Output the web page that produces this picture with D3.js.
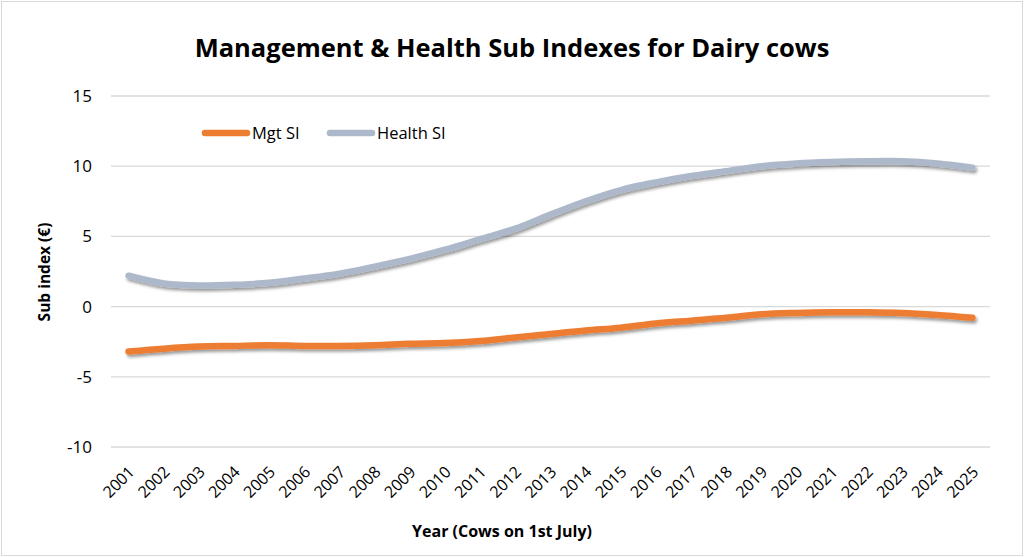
<!DOCTYPE html>
<html>
<head>
<meta charset="utf-8">
<script src="https://cdnjs.cloudflare.com/ajax/libs/d3/7.8.5/d3.min.js"></script>
<style>
  body { margin: 0; background: #fff; }
  text { font-family: "Open Sans", "Noto Sans", sans-serif; fill: #000; }
</style>
</head>
<body>
<svg id="chart" width="1024" height="557"></svg>
<script>

var years = ["2001","2002","2003","2004","2005","2006","2007","2008","2009","2010","2011","2012","2013",
             "2014","2015","2016","2017","2018","2019","2020","2021","2022","2023","2024","2025"];
var mgt_si = [-3.2,-3.0,-2.85,-2.8,-2.75,-2.8,-2.8,-2.75,-2.65,-2.6,-2.45,-2.2,-1.95,
              -1.7,-1.5,-1.2,-1.0,-0.8,-0.55,-0.45,-0.4,-0.4,-0.45,-0.6,-0.8];
var health_si = [2.2,1.65,1.5,1.55,1.7,2.0,2.35,2.85,3.4,4.05,4.8,5.55,6.55,
                 7.5,8.3,8.85,9.3,9.65,10.0,10.2,10.3,10.35,10.35,10.2,9.9];
var y_ticks = [-10,-5,0,5,10,15];

var series = [
  { name: "Mgt SI", values: mgt_si, color: "#ED7D31" },
  { name: "Health SI", values: health_si, color: "#ADB9CA" }
];

var svg = d3.select("#chart");

// frame
svg.append("rect")
    .attr("x", 1.5).attr("y", 1.5)
    .attr("width", 1021).attr("height", 554)
    .attr("fill", "#fff")
    .attr("stroke", "#d9d9d9");

// shadow
var defs = svg.append("defs");
var f = defs.append("filter").attr("id", "shadow")
    .attr("x", "-5%").attr("y", "-50%").attr("width", "110%").attr("height", "200%");
f.append("feDropShadow")
    .attr("dx", 1.5).attr("dy", 2.5).attr("stdDeviation", 1.6)
    .attr("flood-color", "#000").attr("flood-opacity", 0.4);

var plot = { left: 111, right: 990, top: 96, bottom: 447 };

var x = d3.scaleBand().domain(years).range([plot.left, plot.right]);
var y = d3.scaleLinear().domain([-10, 15]).range([plot.bottom, plot.top]);

// grid
svg.append("g").selectAll("line")
  .data(y_ticks).enter().append("line")
    .attr("x1", plot.left).attr("x2", plot.right)
    .attr("y1", d => y(d)).attr("y2", d => y(d))
    .attr("stroke", "#d9d9d9").attr("stroke-width", 1.3);

// y axis labels (plain hyphen for negatives, like the original)
var yAxis = svg.append("g")
    .attr("transform", "translate(" + (plot.left - 19) + ",0)")
    .call(d3.axisLeft(y).tickValues(y_ticks).tickFormat(d => String(d)).tickSize(0).tickPadding(0));
yAxis.select(".domain").remove();
yAxis.selectAll("text")
    .style("font-size", "17px")
    .style("font-family", "'Open Sans', sans-serif")
    .attr("fill", "#262626")
    .attr("text-anchor", "end");

// x axis labels
var xAxis = svg.append("g")
    .attr("transform", "translate(0," + plot.bottom + ")")
    .call(d3.axisBottom(x).tickSize(0).tickPadding(0));
xAxis.select(".domain").remove();
xAxis.selectAll("text")
    .style("font-size", "16px")
    .style("font-family", "'Open Sans', sans-serif")
    .attr("fill", "#262626")
    .attr("text-anchor", "end")
    .attr("dy", "0.35em")
    .attr("transform", "translate(3,22) rotate(-45)");

// lines
var line = d3.line()
    .x((d, i) => x(years[i]) + x.bandwidth() / 2)
    .y(d => y(d))
    .curve(d3.curveCatmullRom.alpha(0.5));

svg.append("g").selectAll("path")
  .data(series).enter().append("path")
    .attr("d", d => line(d.values))
    .attr("fill", "none")
    .attr("stroke", d => d.color)
    .attr("stroke-width", 6.5)
    .attr("stroke-linecap", "round")
    .attr("stroke-linejoin", "round")
    .attr("filter", "url(#shadow)");

// legend
var legend = svg.append("g").selectAll("g")
  .data(series).enter().append("g")
    .attr("transform", (d, i) => "translate(" + (205 + i * 125) + ",133)");
legend.append("line")
    .attr("x1", 0).attr("x2", 42)
    .attr("stroke", d => d.color)
    .attr("stroke-width", 6.5)
    .attr("stroke-linecap", "round");
legend.append("text")
    .text(d => d.name)
    .attr("x", 47).attr("dy", "0.35em")
    .style("font-size", "16.5px")
    .attr("fill", "#262626");

// titles
svg.append("text")
    .text("Management & Health Sub Indexes for Dairy cows")
    .attr("x", 512).attr("y", 57)
    .attr("text-anchor", "middle")
    .style("font-size", "25.5px").style("font-weight", "bold");

svg.append("text")
    .text("Sub index (€)")
    .attr("transform", "translate(50,272) rotate(-90)")
    .attr("text-anchor", "middle")
    .style("font-size", "15.5px").style("font-weight", "bold");

svg.append("text")
    .text("Year (Cows on 1st July)")
    .attr("x", 502).attr("y", 537)
    .attr("text-anchor", "middle")
    .style("font-size", "16px").style("font-weight", "bold");

</script>
</body>
</html>
